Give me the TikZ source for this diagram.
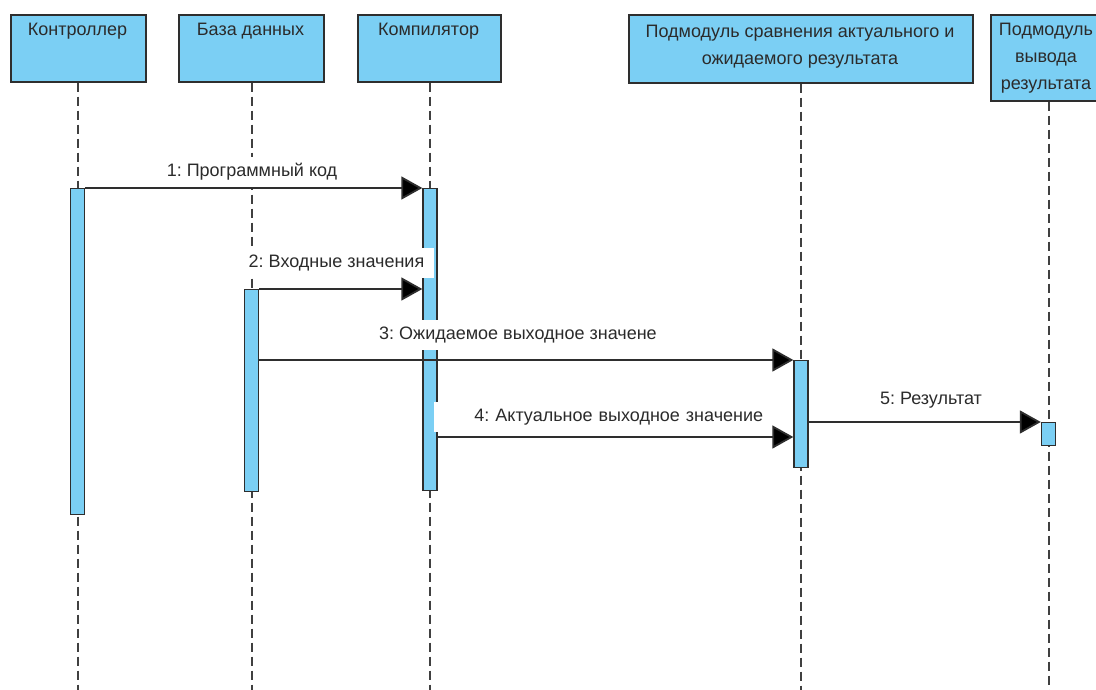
\documentclass[tikz,border=0pt]{standalone}
\usepackage{fontspec}
\setmainfont{Liberation Sans}
\usetikzlibrary{arrows.meta}
\frenchspacing
\definecolor{boxblue}{HTML}{7BCFF4}
\definecolor{ink}{HTML}{2B2B2B}
\definecolor{edge}{HTML}{2E2E2E}
\definecolor{dashgray}{HTML}{404040}

\begin{document}
\begin{tikzpicture}[x=1pt,y=-1pt,
  head/.style={draw=edge, line width=1.6pt, fill=boxblue, inner sep=0pt, anchor=north west},
  headtext/.style={text=ink, font=\fontsize{18}{27}\selectfont, align=center, anchor=base, inner sep=0pt},
  lifeline/.style={draw=dashgray, line width=2pt, dash pattern=on 9pt off 5pt},
  act/.style={draw=edge, line width=1.4pt, fill=boxblue, minimum width=14pt, inner sep=0pt, anchor=north},
  msg/.style={draw=edge, line width=1.8pt, -{Triangle[length=21pt,width=23pt,fill=black]}},
  msgtext/.style={text=ink, font=\fontsize{18}{20}\selectfont, fill=white,
    inner xsep=10pt, inner ysep=7pt, text height=12.5pt, text depth=3.5pt}
]
\fill[white] (0,0) rectangle (1096,690);
\useasboundingbox (0,0) rectangle (1096,690);

% participant heads
\node[head, minimum width=135pt, minimum height=67pt] (ctl) at (10,14) {};
\node[head, minimum width=145pt, minimum height=67pt] (db)  at (178,14) {};
\node[head, minimum width=143pt, minimum height=67pt] (cmp) at (357,14) {};
\node[head, minimum width=344pt, minimum height=68pt] (cmpm) at (628,14) {};
\node[head, minimum width=116pt, minimum height=86pt] (out) at (990,14) {};

% head captions (base anchor sits on the last line)
\node[headtext] (ctlt)  at (77.5,36) {Контроллер};
\node[headtext] (dbt)   at (250.5,36) {База данных};
\node[headtext] (cmpt)  at (428.5,36) {Компилятор};
\node[headtext] (cmpmt) at (800,64.5) {Подмодуль сравнения актуального и\\ожидаемого результата};
\node[headtext] (outt)  at (1046,90) {Подмодуль\\вывода\\результата};

% lifelines
\coordinate (ctlend)  at (77.5,690);
\coordinate (dbend)   at (251.5,690);
\coordinate (cmpend)  at (430,690);
\coordinate (cmpmend) at (801,690);
\coordinate (outend)  at (1048.5,690);
\draw[lifeline] (ctlend |- ctl.south) -- (ctlend);
\draw[lifeline] (dbend |- db.south) -- (dbend);
\draw[lifeline] (cmpend |- cmp.south) -- (cmpend);
\draw[lifeline] (cmpmend |- cmpm.south) -- (cmpmend);
\draw[lifeline] (outend |- out.south) -- (outend);

% activation bars
\node[act, minimum height=326pt] (actl) at (77.5,188) {};
\node[act, minimum height=202pt] (adb)  at (251.5,289) {};
\node[act, minimum height=302pt] (acmp) at (430,188) {};
\node[act, minimum height=107pt] (acm)  at (801,360) {};
\node[act, minimum height=23pt]  (aout) at (1048.5,422) {};

% message labels
\node[msgtext] (l1) at (252,172) {1: Программный код};
\node[msgtext] (l2) at (336.5,263) {2: Входные значения};
\node[msgtext] (l3) at (518,335) {3: Ожидаемое выходное значене};
\node[msgtext, anchor=west, inner xsep=0pt, text width=329pt, align=right] (l4) at (434,417) {4: Актуальное выходное значение};
\node[msgtext] (l5) at (931,400) {5: Результат};

% messages
\draw[msg] (actl.north east) -- (acmp.north west);
\draw[msg] (adb.north east) -- (acmp.west |- adb.north);
\draw[msg] (adb.east |- acm.north) -- (acm.north west);
\draw[msg] (acmp.east |- 0,437) -- (acm.west |- 0,437);
\draw[msg] (acm.east |- aout.north) -- (aout.north west);
\end{tikzpicture}
\end{document}
